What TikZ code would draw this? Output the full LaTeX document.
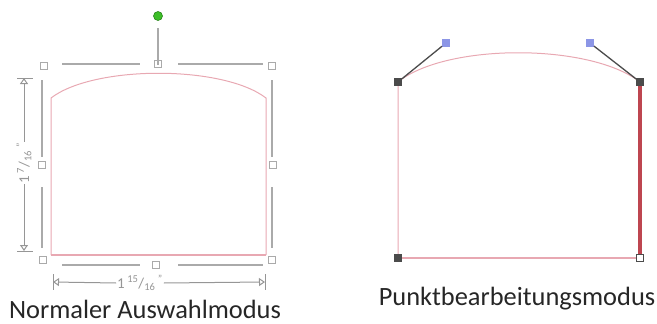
\documentclass[tikz,border=0pt]{standalone}
\usepackage{fontspec}
\setmainfont{Carlito}
\usetikzlibrary{arrows.meta}
\definecolor{pinkline}{RGB}{232,168,178}
\definecolor{darkred}{RGB}{190,70,80}
\definecolor{framegray}{RGB}{170,170,170}
\definecolor{dimgray}{RGB}{150,150,150}
\definecolor{anchorgray}{RGB}{75,75,75}
\definecolor{ctrlblue}{RGB}{140,150,230}
\definecolor{rotgreen}{RGB}{60,190,40}
\tikzset{
  handle/.style={rectangle,draw=framegray,fill=white,line width=0.9pt,minimum size=7pt,inner sep=0pt},
  anchorpt/.style={rectangle,fill=anchorgray,minimum size=7.5pt,inner sep=0pt},
  ctrlpt/.style={rectangle,fill=ctrlblue,minimum size=7.5pt,inner sep=0pt},
  endpt/.style={rectangle,draw=anchorgray,fill=white,line width=0.9pt,minimum size=7pt,inner sep=0pt},
  frameline/.style={draw=framegray,line width=1.2pt},
  dimline/.style={draw=dimgray,line width=1pt},
  dimtip/.style={-{Triangle[open,length=6pt,width=8pt]}},
  shapeline/.style={draw=pinkline,line width=1pt},
  caption/.style={font=\fontsize{26.4}{30}\selectfont,text=black!85,inner sep=0pt,anchor=base},
  dimtext/.style={font=\fontsize{15}{17}\selectfont,text=dimgray,inner sep=1pt,fill=white}
}
\begin{document}
\begin{tikzpicture}[x=1pt,y=-1pt]
\useasboundingbox (0,0) rectangle (657,324);
% ---------- left: normal selection mode ----------
\coordinate (lbl) at (51,255);
\coordinate (ltl) at (51,98);
\coordinate (ltr) at (266,98);
\coordinate (lbr) at (266,255);
\draw[shapeline] (lbl) -- (ltl) .. controls (94,65) and (223,65) .. (ltr) -- (lbr);
\draw[draw=pinkline,line width=2.4pt] (lbl) -- (lbr);
% frame lines with gaps
\draw[frameline] (62,64) -- (140,64) (178,64) -- (263,64);
\draw[frameline] (62,265) -- (140,265) (178,265) -- (263,265);
\draw[frameline] (42,80) -- (42,157) (42,187) -- (42,248);
\draw[frameline] (272,80) -- (272,157) (272,187) -- (272,248);
% handles
\node[handle] (htl) at (44,66) {};
\node[handle] (htm) at (158,64) {};
\node[handle] (htr) at (272,66) {};
\node[handle] (hml) at (42,165) {};
\node[handle] (hmr) at (273,165) {};
\node[handle] (hbl) at (43,260) {};
\node[handle] (hbm) at (156,265) {};
\node[handle] (hbr) at (272,260) {};
% rotation handle
\node[circle,fill=rotgreen,draw=rotgreen!70!black,line width=0.6pt,minimum size=9pt,inner sep=0pt] (rot) at (158,16) {};
\draw[frameline] (rot.south) ++(0,7) -- ([yshift=-5pt]htm.north);
% vertical dimension
\node[dimtext,rotate=90] (vdim) at (24,163) {1\,\textsuperscript{7}/\textsubscript{16}\,\textsuperscript{"}};
\coordinate (vtop) at (24,78);
\coordinate (vbot) at (24,251);
\draw[dimline] (17,78) -- (33,78);
\draw[dimline] (17,251) -- (33,251);
\draw[dimline,dimtip] (vdim.east) -- (vtop);
\draw[dimline,dimtip] (vdim.west) -- (vbot);
% horizontal dimension
\node[dimtext] (hdim) at (140,283) {1\,\textsuperscript{15}/\textsubscript{16}\,\textsuperscript{"}};
\coordinate (hleft) at (53,282);
\coordinate (hright) at (265,282);
\draw[dimline] (53,274) -- (53,290);
\draw[dimline] (265,274) -- (265,290);
\draw[dimline,dimtip] (hdim.west) -- (hleft);
\draw[dimline,dimtip] (hdim.east) -- (hright);
\node[caption] (cap1) at (145,318) {Normaler Auswahlmodus};
% ---------- right: point edit mode ----------
\coordinate (ptlc) at (398,82);
\coordinate (ptrc) at (640,82);
\coordinate (pblc) at (398,258);
\coordinate (pbrc) at (640,258);
\coordinate (clc) at (446,43);
\coordinate (crc) at (590,43);
\draw[shapeline] (pblc) -- (ptlc) .. controls (clc) and (crc) .. (ptrc);
\draw[draw=pinkline,line width=1.4pt] (pblc) -- (pbrc);
\draw[draw=darkred,line width=3.4pt] (ptrc) -- (pbrc);
\node[anchorpt] (ptl) at (ptlc) {};
\node[anchorpt] (ptr) at (ptrc) {};
\node[anchorpt] (pbl) at (pblc) {};
\node[endpt] (pbr) at (pbrc) {};
\node[ctrlpt] (cl) at (clc) {};
\node[ctrlpt] (cr) at (crc) {};
\draw[draw=anchorgray,line width=1.3pt] (ptl) -- (cl);
\draw[draw=anchorgray,line width=1.3pt] (ptr) -- (cr);
\node[caption] (cap2) at (517,305) {Punktbearbeitungsmodus};
\end{tikzpicture}
\end{document}
